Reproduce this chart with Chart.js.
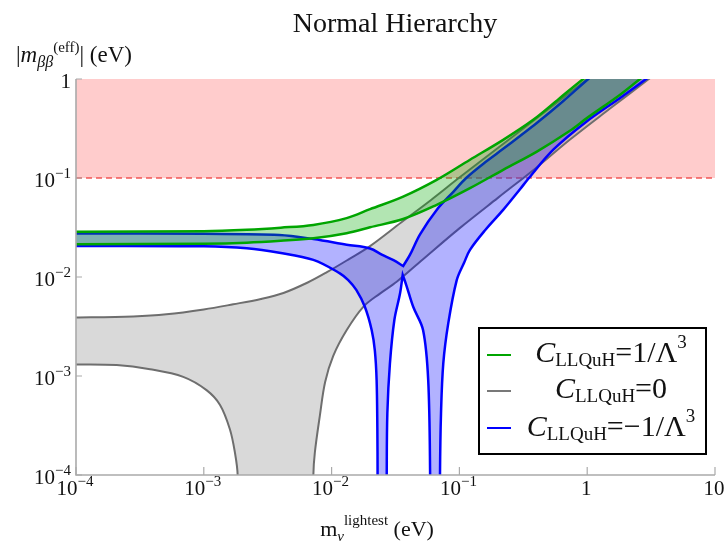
<!DOCTYPE html>
<html>
<head>
<meta charset="utf-8">
<title>Normal Hierarchy</title>
<script src="https://cdn.jsdelivr.net/npm/chart.js@4.4.1/dist/chart.umd.min.js"></script>
<style>
  html, body { margin: 0; padding: 0; background: #fff; }
  #wrap { width: 728px; height: 545px; }
</style>
</head>
<body>
<div id="wrap"><canvas id="chart" width="728" height="545"></canvas></div>
<script>
// Axis ticks (decades)
const xTicks = [1e-4, 1e-3, 1e-2, 1e-1, 1, 10];
const yTicks = [1e-4, 1e-3, 1e-2, 1e-1, 1];

// Excluded band (experimental bound)
const boundLow = 0.1;
const boundHigh = 1;

// C_LLQuH = 0 : upper edge, lower edge right branch, lower edge left branch
const greyUpX = [8e-5, 1e-4, 2.8e-4, 5.1e-4, 1e-3, 1.7e-3, 2.8e-3, 4.2e-3, 6.5e-3, 9.2e-3, 0.0135, 0.02, 0.035, 0.06, 0.1, 0.2, 0.4, 0.7, 1.0, 1.6];
const greyUpY = [0.0039, 0.0039, 0.0040, 0.0042, 0.0047, 0.0053, 0.0060, 0.0069, 0.0088, 0.0112, 0.0150, 0.0205, 0.0355, 0.060, 0.101, 0.201, 0.40, 0.70, 1.0, 1.6];
const greyLoRX = [7.1e-3, 7.2e-3, 7.4e-3, 8.1e-3, 8.9e-3, 0.0103, 0.0131, 0.0177, 0.0239, 0.0323, 0.05, 0.1, 0.2, 0.4, 0.73, 1.5, 3.0, 4.5];
const greyLoRY = [1e-5, 1e-4, 1.7e-4, 4.0e-4, 8.7e-4, 1.6e-3, 2.9e-3, 5.0e-3, 6.8e-3, 8.95e-3, 0.0145, 0.031, 0.063, 0.127, 0.243, 0.50, 0.99, 1.48];
const greyLoLX = [8e-5, 1e-4, 2.08e-4, 3.8e-4, 6.9e-4, 1.05e-3, 1.34e-3, 1.6e-3, 1.75e-3, 1.84e-3, 1.86e-3];
const greyLoLY = [0.00131, 0.00131, 0.00129, 0.00117, 9.8e-4, 7.2e-4, 5.1e-4, 2.9e-4, 1.7e-4, 1e-4, 1e-5];

// C_LLQuH = 1/Lambda^3 : upper and lower edges
const greenUpX = [8e-5, 1e-4, 1e-3, 2.17e-3, 4e-3, 7.2e-3, 0.0131, 0.02, 0.0363, 0.0664, 0.121, 0.22, 0.378, 0.6, 0.93, 1.4];
const greenUpY = [0.0287, 0.0287, 0.0290, 0.0300, 0.0315, 0.0336, 0.0393, 0.0484, 0.0649, 0.0958, 0.153, 0.243, 0.387, 0.63, 1.0, 1.48];
const greenLoX = [8e-5, 1e-4, 1e-3, 2.17e-3, 4e-3, 7.2e-3, 0.0131, 0.02, 0.0363, 0.0664, 0.121, 0.22, 0.404, 0.733, 1.0, 1.81, 2.59, 3.6];
const greenLoY = [0.0214, 0.0214, 0.0217, 0.0222, 0.0232, 0.0246, 0.0277, 0.0318, 0.0385, 0.0535, 0.0789, 0.121, 0.185, 0.30, 0.405, 0.694, 1.0, 1.38];

// C_LLQuH = -1/Lambda^3 : upper edge (V corner listed twice), lower edge in three branches (apex twice)
const blueTopX = [8e-5, 1e-4, 1e-3, 3.9e-3, 7.2e-3, 0.0131, 0.02, 0.0247, 0.0305, 0.0363, 0.0363, 0.041, 0.0492, 0.0664, 0.09, 0.113, 0.16, 0.22, 0.298, 0.403, 0.65, 1.02, 1.5];
const blueTopY = [0.0275, 0.0275, 0.0273, 0.0266, 0.0242, 0.0212, 0.0194, 0.0168, 0.0148, 0.0129, 0.0129, 0.0167, 0.0270, 0.0476, 0.073, 0.100, 0.145, 0.197, 0.266, 0.359, 0.60, 1.0, 1.5];
const blueLoLX = [8e-5, 1e-4, 1e-3, 2.17e-3, 3.9e-3, 7.2e-3, 0.0116, 0.0135, 0.0156, 0.0182, 0.0206, 0.0218, 0.0225, 0.0228, 0.0229, 0.02295];
const blueLoLY = [0.0206, 0.0206, 0.0204, 0.0195, 0.0176, 0.0149, 0.0109, 0.0093, 0.0074, 0.0050, 0.0029, 0.0018, 9.1e-4, 3e-4, 1e-4, 1e-5];
const blueMidX = [0.0269, 0.0270, 0.0273, 0.0286, 0.0310, 0.0343, 0.0360, 0.0360, 0.0385, 0.0435, 0.0520, 0.0570, 0.0590, 0.0592];
const blueMidY = [1e-5, 1e-4, 4.2e-4, 1.34e-3, 3.7e-3, 6.8e-3, 0.0105, 0.0105, 0.0082, 0.0050, 0.0029, 9.1e-4, 1e-4, 1e-5];
const blueLoRX = [0.0703, 0.0705, 0.0718, 0.0748, 0.0818, 0.0953, 0.109, 0.121, 0.16, 0.22, 0.298, 0.35, 0.543, 0.99, 1.81, 2.89, 4.2];
const blueLoRY = [1e-5, 1e-4, 4.2e-4, 1.34e-3, 3.4e-3, 9.3e-3, 0.0140, 0.0188, 0.030, 0.0476, 0.077, 0.100, 0.193, 0.372, 0.643, 1.0, 1.45];

const pts = (xs, ys) => xs.map((x, i) => ({ x: x, y: ys[i] }));
const rev = a => a.slice().reverse();

const xMin = xTicks[0], xMax = xTicks[xTicks.length - 1];

const greyShape = [...pts(greyUpX, greyUpY), ...rev(pts(greyLoRX, greyLoRY)), ...rev(pts(greyLoLX, greyLoLY))];
const greenShape = [...pts(greenUpX, greenUpY), ...rev(pts(greenLoX, greenLoY))];
const blueShape = [...pts(blueTopX, blueTopY), ...rev(pts(blueLoRX, blueLoRY)), ...rev(pts(blueMidX, blueMidY)), ...rev(pts(blueLoLX, blueLoLY))];
const boundShape = [{ x: xMin, y: boundLow }, { x: xMax, y: boundLow }, { x: xMax, y: boundHigh }, { x: xMin, y: boundHigh }];

const SERIF = '"Liberation Serif", "DejaVu Serif", serif';

function fontOf(p) {
    return (p.i ? 'italic ' : '') + p.s + 'px ' + SERIF;
}

// draws a run of text pieces (sub/superscripts via dy)
function drawRich(ctx, parts, x, y, align) {
    let w = 0;
    parts.forEach(p => {
        ctx.font = fontOf(p);
        p.w = ctx.measureText(p.t).width;
        w += p.w;
    });
    let cx = align === 'center' ? x - w / 2 : (align === 'right' ? x - w : x);
    ctx.textAlign = 'left';
    ctx.textBaseline = 'alphabetic';
    parts.forEach(p => {
        ctx.font = fontOf(p);
        ctx.fillText(p.t, cx, y + (p.dy || 0));
        cx += p.w;
    });
}

function tickParts(v) {
    const k = Math.round(Math.log10(v));
    if (k === 0) return [{ t: '1', s: 21 }];
    if (k === 1) return [{ t: '10', s: 21 }];
    return [{ t: '10', s: 21 }, { t: '\u2212' + (-k), s: 15, dy: -9 }];
}

const frame = {
    id: 'frame',
    afterDraw(chart) {
        const ctx = chart.ctx;
        const a = chart.chartArea;
        const xs = chart.scales.x, ys = chart.scales.y;
        ctx.save();

        // axes
        ctx.strokeStyle = '#aaaaaa';
        ctx.lineWidth = 1.6;
        ctx.beginPath();
        ctx.moveTo(a.left, a.top);
        ctx.lineTo(a.left, a.bottom);
        ctx.lineTo(a.right, a.bottom);
        ctx.stroke();

        ctx.lineWidth = 1.2;
        ctx.beginPath();
        xTicks.forEach(v => {
            const px = xs.getPixelForValue(v);
            ctx.moveTo(px, a.bottom);
            ctx.lineTo(px, a.bottom - 8);
        });
        yTicks.forEach(v => {
            const py = ys.getPixelForValue(v);
            ctx.moveTo(a.left, py);
            ctx.lineTo(a.left + 6, py);
        });
        ctx.stroke();

        ctx.fillStyle = '#111';
        xTicks.forEach(v => {
            drawRich(ctx, tickParts(v), xs.getPixelForValue(v) - 1, a.bottom + 20, 'center');
        });
        yTicks.forEach(v => {
            drawRich(ctx, tickParts(v), a.left - 5, ys.getPixelForValue(v) + 8.5, 'right');
        });

        // title and axis titles
        drawRich(ctx, [{ t: 'Normal Hierarchy', s: 28 }], 395, 32, 'center');
        drawRich(ctx, [
            { t: '|', s: 23 }, { t: 'm', s: 23, i: true }, { t: '\u03b2\u03b2', s: 16, i: true, dy: 5 },
            { t: '(eff)', s: 15, dy: -10 }, { t: '|', s: 23 }, { t: ' (eV)', s: 23 }
        ], 16, 62, 'left');
        drawRich(ctx, [
            { t: 'm', s: 22 }, { t: '\u03bd', s: 15, i: true, dy: 5 },
            { t: 'lightest', s: 15, dy: -11 }, { t: ' (eV)', s: 22 }
        ], 377, 536, 'center');

        // legend
        const box = { l: 479, t: 328, r: 706, b: 454 };
        ctx.fillStyle = '#fff';
        ctx.fillRect(box.l, box.t, box.r - box.l, box.b - box.t);
        ctx.strokeStyle = '#000';
        ctx.lineWidth = 2;
        ctx.strokeRect(box.l, box.t, box.r - box.l, box.b - box.t);
        const rows = [
            { c: 'rgb(0,165,0)', line: 355, base: 362, rhs: '=1/\u039b', sup: '3' },
            { c: 'rgb(120,120,120)', line: 391, base: 398, rhs: '=0', sup: '' },
            { c: '#0000ff', line: 428, base: 436, rhs: '=\u22121/\u039b', sup: '3' }
        ];
        rows.forEach(r => {
            ctx.strokeStyle = r.c;
            ctx.lineWidth = 2;
            ctx.beginPath();
            ctx.moveTo(487, r.line);
            ctx.lineTo(511, r.line);
            ctx.stroke();
            ctx.fillStyle = '#111';
            const parts = [{ t: 'C', s: 30, i: true }, { t: 'LLQuH', s: 19, dy: 4 }, { t: r.rhs, s: 30 }];
            if (r.sup) parts.push({ t: r.sup, s: 19, dy: -14 });
            drawRich(ctx, parts, 611, r.base, 'center');
        });

        ctx.restore();
    }
};

const common = { showLine: true, pointRadius: 0, pointHoverRadius: 0, tension: 0.35, fill: 'shape' };

new Chart(document.getElementById('chart'), {
    type: 'scatter',
    data: {
        datasets: [
            Object.assign({}, common, {
                label: 'bound', data: boundShape, order: 5, tension: 0,
                backgroundColor: 'rgba(255,0,0,0.2)', borderWidth: 0, borderColor: 'rgba(0,0,0,0)'
            }),
            {
                label: 'bound line', data: [{ x: xMin, y: boundLow }, { x: xMax, y: boundLow }], order: 4,
                showLine: true, pointRadius: 0, fill: false,
                borderColor: 'rgba(240,60,60,0.85)', borderWidth: 1.3, borderDash: [6, 4]
            },
            Object.assign({}, common, {
                label: 'C = 0', data: greyShape, order: 3,
                backgroundColor: 'rgba(128,128,128,0.3)', borderColor: 'rgb(110,110,110)', borderWidth: 2
            }),
            Object.assign({}, common, {
                label: 'C = -1/L3', data: blueShape, order: 2,
                backgroundColor: 'rgba(0,0,255,0.3)', borderColor: '#0000ff', borderWidth: 2.5
            }),
            Object.assign({}, common, {
                label: 'C = 1/L3', data: greenShape, order: 1,
                backgroundColor: 'rgba(0,170,0,0.3)', borderColor: 'rgb(0,165,0)', borderWidth: 2.5
            })
        ]
    },
    options: {
        responsive: false,
        animation: false,
        events: [],
        elements: { line: { capBezierPoints: false } },
        layout: { padding: { left: 76, right: 13, top: 79, bottom: 70 } },
        scales: {
            x: { type: 'logarithmic', min: xMin, max: xMax, display: false },
            y: { type: 'logarithmic', min: yTicks[0], max: yTicks[yTicks.length - 1], display: false }
        },
        plugins: {
            legend: { display: false },
            tooltip: { enabled: false },
            title: { display: false }
        }
    },
    plugins: [frame]
});
</script>
</body>
</html>
